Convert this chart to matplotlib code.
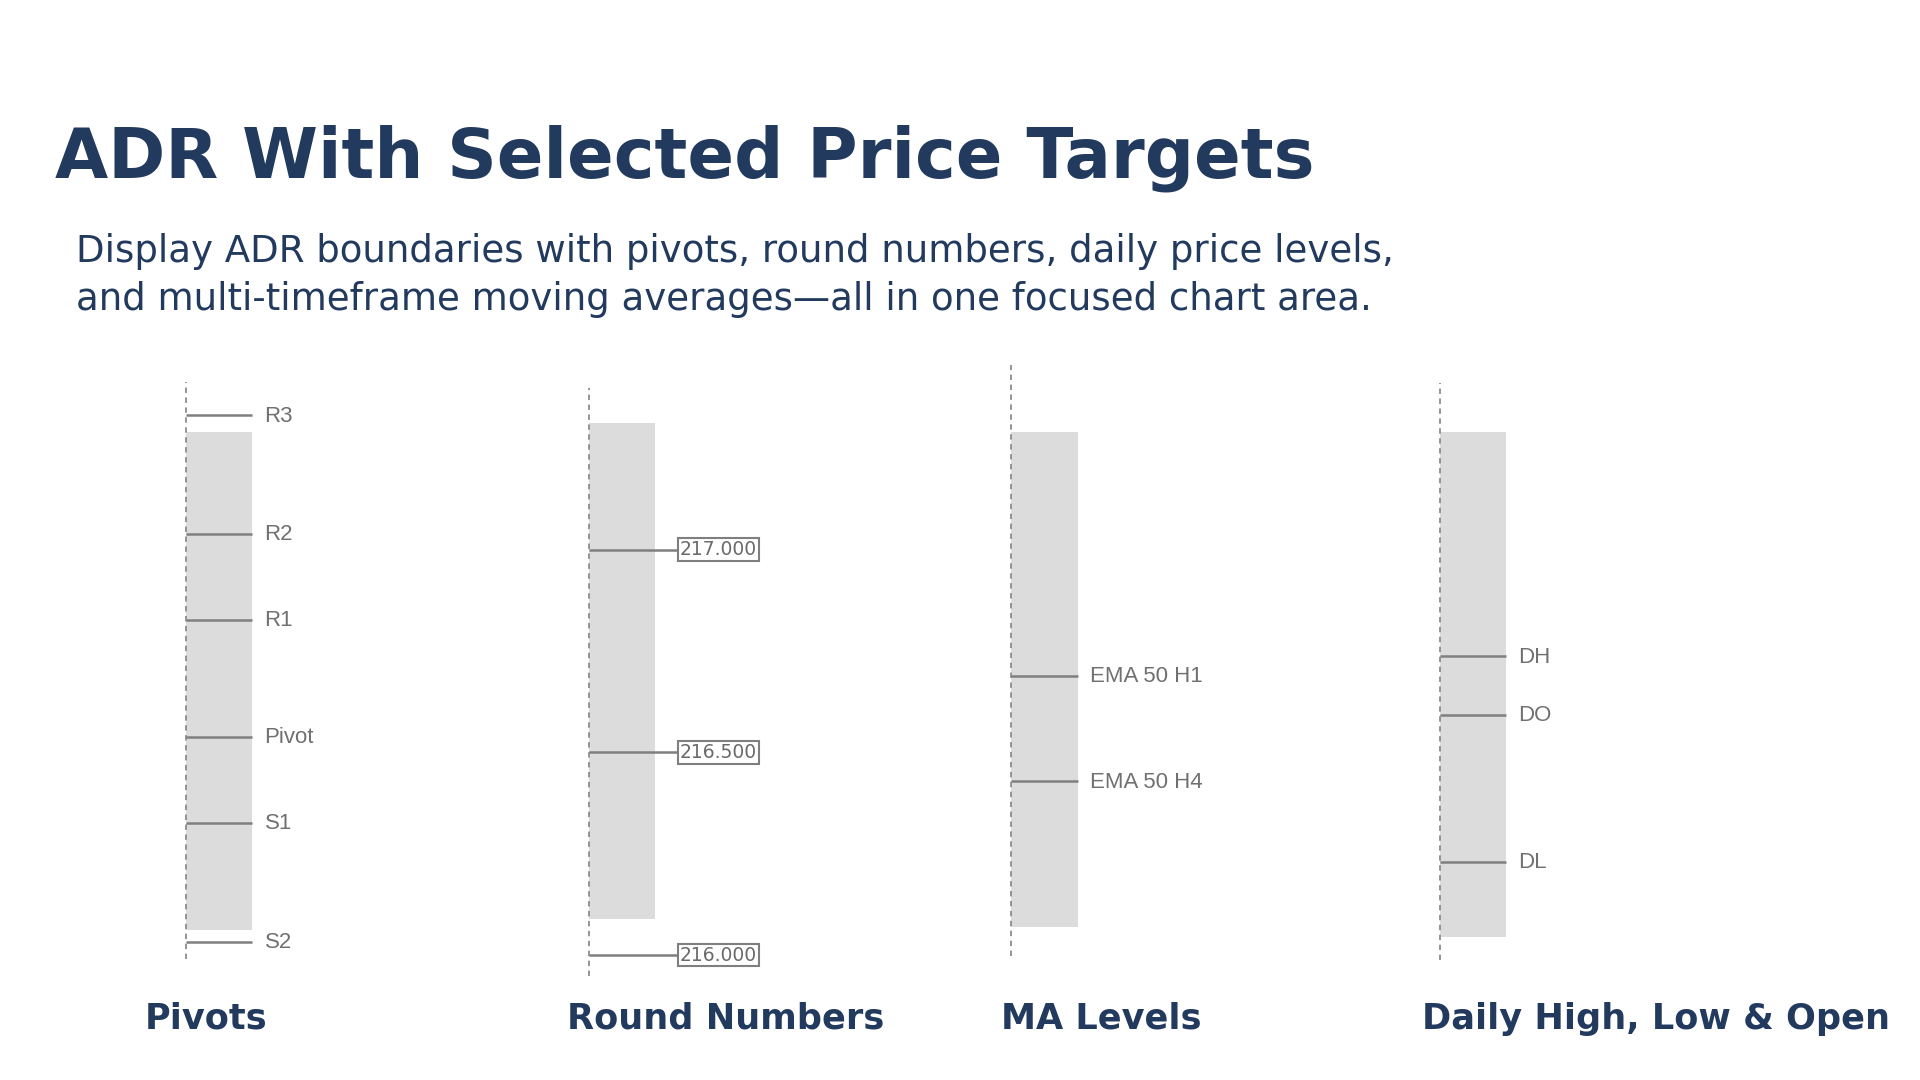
import matplotlib
matplotlib.use("Agg")
import matplotlib.pyplot as plt

# price levels (same price scale for every column)
pivot_names = ["R3", "R2", "R1", "Pivot", "S1", "S2"]
pivot_values = [217.332, 217.039, 216.828, 216.538, 216.326, 216.033]

round_names = ["217.000", "216.500", "216.000"]
round_values = [217.000, 216.500, 216.000]

ma_names = ["EMA 50 H1", "EMA 50 H4"]
ma_values = [216.689, 216.429]

daily_names = ["DH", "DO", "DL"]
daily_values = [216.737, 216.592, 216.230]

# ADR band (high, low) per column
adr_high = [217.290, 217.314, 217.290, 217.290]
adr_low = [216.063, 216.088, 216.069, 216.045]

# visible price window per column (dotted axis)
window_top = [217.414, 217.399, 217.456, 217.411]
window_bottom = [215.991, 215.949, 215.997, 215.988]

categories = ["Pivots", "Round Numbers", "MA Levels", "Daily High, Low & Open"]

NAVY = "#223a5e"
GREY_TXT = "#707070"
LINE = "#7f7f7f"
BAND = "#dcdcdc"

W, H = 1568.0, 882.0  # layout units (reference scaled)
col_x = [152, 481, 826, 1176]
band_w = 54
label_cx = [168, 593, 899, 1352]

fig = plt.figure(figsize=(19.2, 10.8), dpi=100)
fig.patch.set_facecolor("white")

ax = fig.add_axes([0, 1 - 800 / H, 1, 510 / H])
ax.set_xlim(0, W)
ax.set_ylim(217 - (800 - 449) / 331, 217 + (449 - 290) / 331)
ax.axis("off")

levels = [(pivot_names, pivot_values), (round_names, round_values),
          (ma_names, ma_values), (daily_names, daily_values)]

for i, (names, vals) in enumerate(levels):
    x0 = col_x[i]
    ax.bar(x0, adr_high[i] - adr_low[i], bottom=adr_low[i], width=band_w,
           align="edge", color=BAND, zorder=1)
    ax.vlines(x0, window_bottom[i], window_top[i], colors="#8c8c8c",
              linestyles=(0, (3, 2.5)), lw=1.3, zorder=2)
    if i == 1:
        for n, v in zip(names, vals):
            ax.hlines(v, x0, x0 + 72, colors=LINE, lw=1.8, zorder=3)
            ax.text(x0 + 74, v, n, fontsize=13.5, family="DejaVu Sans",
                    color="#6a6a6a", va="center", ha="left", zorder=4,
                    bbox=dict(boxstyle="square,pad=0.1", fc="white",
                              ec=LINE, lw=1.5))
    else:
        for n, v in zip(names, vals):
            ax.hlines(v, x0, x0 + band_w, colors=LINE, lw=1.8, zorder=3)
            ax.text(x0 + band_w + 10, v - 0.002, n, fontsize=16,
                    family="Liberation Sans", color=GREY_TXT,
                    va="center", ha="left", zorder=4)

fig.text(45 / W, 1 - 145 / H, "ADR With Selected Price Targets",
         fontsize=49.5, fontweight="bold", color=NAVY, va="baseline", ha="left")
fig.text(62 / W, 1 - 214 / H,
         "Display ADR boundaries with pivots, round numbers, daily price levels,",
         fontsize=26.7, color=NAVY, va="baseline", ha="left")
fig.text(62 / W, 1 - 253 / H,
         "and multi-timeframe moving averages\u2014all in one focused chart area.",
         fontsize=26.7, color=NAVY, va="baseline", ha="left")

for cx, name in zip(label_cx, categories):
    fig.text(cx / W, 1 - 840 / H, name, fontsize=25.3, fontweight="bold",
             color=NAVY, va="baseline", ha="center")

fig.savefig("out.png", dpi=100, facecolor="white")
